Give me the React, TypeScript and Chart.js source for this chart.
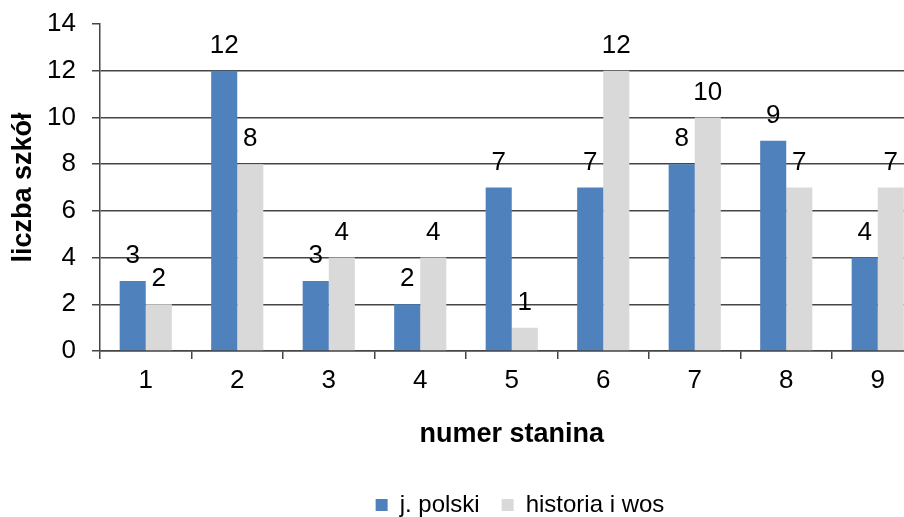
import React, { useEffect, useRef } from "react";
import { Chart, registerables } from "chart.js";

Chart.register(...registerables);

const categories = ["1", "2", "3", "4", "5", "6", "7", "8", "9"];
const polskiValues = [3, 12, 3, 2, 7, 7, 8, 9, 4];
const historiaValues = [2, 8, 4, 4, 1, 12, 10, 7, 7];
const seriesNames = ["j. polski", "historia i wos"];
const yTitle = "liczba szkół";
const xTitle = "numer stanina";

const FONT = "'Liberation Sans', Arial, sans-serif";
const GRID = "#454545";

const dataLabels = {
  id: "dataLabels",
  afterDatasetsDraw(chart: any) {
    const ctx = chart.ctx;
    ctx.save();
    ctx.font = `26px ${FONT}`;
    ctx.fillStyle = "#000";
    ctx.textAlign = "center";
    ctx.textBaseline = "middle";
    chart.data.datasets.forEach((ds: any, i: number) => {
      const meta = chart.getDatasetMeta(i);
      meta.data.forEach((el: any, j: number) => {
        ctx.fillText(String(ds.data[j]), el.x, el.y - 25);
      });
    });
    ctx.restore();
  },
};

export default function App() {
  const ref = useRef<HTMLCanvasElement>(null);
  useEffect(() => {
    if (!ref.current) return;
    const chart = new Chart(ref.current, {
      type: "bar",
      data: {
        labels: categories,
        datasets: [
          { label: seriesNames[0], data: polskiValues, backgroundColor: "#4F81BD" },
          { label: seriesNames[1], data: historiaValues, backgroundColor: "#D9D9D9" },
        ],
      },
      plugins: [dataLabels],
      options: {
        responsive: false,
        animation: false,
        devicePixelRatio: 1,
        layout: { padding: { top: 24, right: 0, left: 0, bottom: 0 } },
        datasets: {
          bar: { categoryPercentage: 0.57, barPercentage: 1 },
        },
        plugins: {
          tooltip: { enabled: false },
          legend: {
            position: "bottom",
            labels: {
              font: { family: FONT, size: 24 },
              color: "#000",
              boxWidth: 12,
              boxHeight: 12,
              padding: 22,
            },
          },
        },
        scales: {
          x: {
            afterFit: (scale: any) => {
              const lh = scale.chart.legend ? scale.chart.legend.height : 0;
              scale.height = scale.chart.height - 351 - lh;
              scale.paddingLeft = 0;
              scale.paddingRight = 0;
            },
            grid: {
              offset: true,
              drawOnChartArea: false,
              tickLength: 8,
              color: GRID,
              lineWidth: 1.5,
            },
            border: { color: GRID, width: 1.5 },
            ticks: {
              font: { family: FONT, size: 26 },
              color: "#000",
              padding: 6,
            },
            title: {
              display: true,
              text: xTitle,
              font: { family: FONT, size: 27, weight: "bold" },
              color: "#000",
              padding: { top: 20, bottom: 20 },
            },
          },
          y: {
            min: 0,
            max: 14,
            afterFit: (scale: any) => {
              scale.width = 100;
              scale.paddingTop = 0;
              scale.paddingBottom = 0;
            },
            ticks: {
              stepSize: 2,
              font: { family: FONT, size: 26 },
              color: "#000",
              padding: 16,
            },
            grid: {
              tickLength: 8,
              lineWidth: 1.5,
              color: (c: any) => (c.tick && c.tick.value === 14 ? "rgba(0,0,0,0)" : GRID),
              tickColor: GRID,
            },
            border: { color: GRID, width: 1.5 },
            title: {
              display: true,
              text: yTitle,
              font: { family: FONT, size: 27, weight: "bold" },
              color: "#000",
              padding: { top: 7, bottom: 0 },
            },
          },
          yRight: {
            type: "linear",
            position: "right",
            display: true,
            afterFit: (scale: any) => {
              scale.width = 116.5;
              scale.paddingTop = 0;
              scale.paddingBottom = 0;
            },
            grid: { display: false, drawTicks: false },
            border: { display: false },
            ticks: { display: false },
          },
        },
      } as any,
    });
    return () => chart.destroy();
  }, []);
  return (
    <div
      style={{
        position: "fixed",
        left: 0,
        top: 0,
        width: 904,
        height: 517,
        overflow: "hidden",
        background: "#fff",
      }}
    >
      <canvas ref={ref} width={1040} height={527} style={{ display: "block" }} />
    </div>
  );
}
